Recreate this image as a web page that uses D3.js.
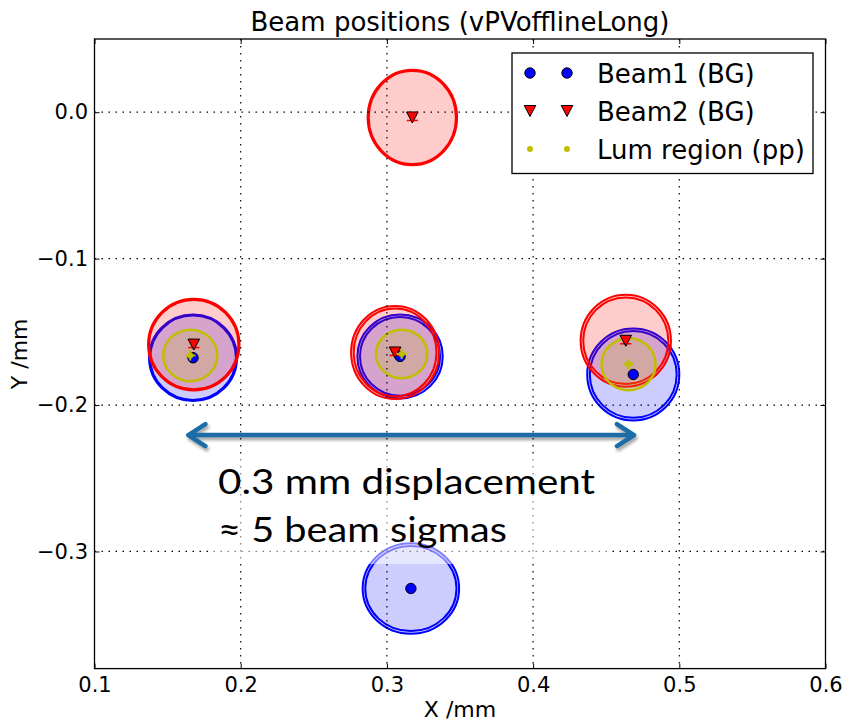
<!DOCTYPE html>
<html><head><meta charset="utf-8">
<script src="https://cdn.jsdelivr.net/npm/d3@7/dist/d3.min.js"></script>
<style>body{margin:0;background:#fff}svg{display:block}</style>
</head><body>
<svg id="chart" width="845" height="723"></svg>
<script>
// ---------- data ----------
const xTicks = [0.1, 0.2, 0.3, 0.4, 0.5, 0.6];
const xTickLabels = ["0.1", "0.2", "0.3", "0.4", "0.5", "0.6"];
const yTicks = [0.0, -0.1, -0.2, -0.3];
const yTickLabels = ["0.0", "\u22120.1", "\u22120.2", "\u22120.3"];

// Beam1 (BG): left, middle, right, bottom
const beam1X  = [0.1674, 0.3090, 0.4685, 0.3164];
const beam1Y  = [-0.1677, -0.1668, -0.1791, -0.3253];
const beam1Rx = [0.0301, 0.0292, 0.0315, 0.0330];
const beam1Ry = [0.0296, 0.0287, 0.0314, 0.0309];
const beam1Rx2 = [0.0293, 0.0274, 0.0297, 0.0312];
const beam1Ry2 = [0.0288, 0.0269, 0.0296, 0.0291];

// Beam2 (BG): left, middle, right, top
const beam2X  = [0.1679, 0.3056, 0.4634, 0.3174];
const beam2Y  = [-0.1587, -0.1641, -0.1561, -0.0036];
const beam2Rx = [0.0313, 0.0301, 0.0309, 0.0306];
const beam2Ry = [0.0313, 0.0318, 0.0314, 0.0326];
const beam2Rx2 = [0.0305, 0.0283, 0.0291, 0.0298];
const beam2Ry2 = [0.0305, 0.0300, 0.0296, 0.0318];
const beam2Ex = 0.0038, beam2Ey = 0.002;

// Lum region (pp): left, middle, right
const lumX  = [0.1655, 0.3101, 0.4653];
const lumY  = [-0.1661, -0.1651, -0.1721];
const lumRx = [0.0185, 0.0176, 0.0185];
const lumRy = [0.0176, 0.0166, 0.0178];
const lumEx = 0.0035, lumEy = 0.0035;

const legendLabels = ["Beam1 (BG)", "Beam2 (BG)", "Lum region (pp)"];
const arrowX = [0.1642, 0.4690];
const arrowY = -0.2205;
const noteLines = ["0.3 mm displacement", "\u2248 5 beam sigmas"];

// ---------- layout ----------
const L = 94.5, R = 825.5, T = 39, B = 668.6;
const x = d3.scaleLinear().domain([0.1, 0.6]).range([L, R]);
const y = d3.scaleLinear().domain([-0.38, 0.05]).range([B, T]);
const svg = d3.select("#chart");
const FONT = "'DejaVu Sans', sans-serif";

const defs = svg.append("defs");
defs.append("clipPath").attr("id", "plotclip").append("rect")
  .attr("x", L).attr("y", T).attr("width", R - L).attr("height", B - T);
const f = defs.append("filter").attr("id", "shadow").attr("x", "-10%").attr("y", "-50%").attr("width", "120%").attr("height", "200%");
f.append("feGaussianBlur").attr("stdDeviation", 1.6);

const BLUE = "#0000ff", RED = "#ff0000", YEL = "#bfbf00";

const plot = svg.append("g").attr("clip-path", "url(#plotclip)");

function rings(X, Y, Rx, Ry, Rx2, Ry2, col, fillOp) {
  const g = plot.append("g");
  X.forEach((d, i) => {
    g.append("ellipse")
      .attr("cx", x(X[i])).attr("cy", y(Y[i]))
      .attr("rx", x(X[i] + Rx[i]) - x(X[i])).attr("ry", y(Y[i] - Ry[i]) - y(Y[i]))
      .attr("fill", col).attr("fill-opacity", fillOp)
      .attr("stroke", col).attr("stroke-width", 2);
    if (Rx2) {
      g.append("ellipse")
        .attr("cx", x(X[i])).attr("cy", y(Y[i]))
        .attr("rx", x(X[i] + Rx2[i]) - x(X[i])).attr("ry", y(Y[i] - Ry2[i]) - y(Y[i]))
        .attr("fill", "none").attr("stroke", col).attr("stroke-width", 2);
    }
  });
}
rings(beam1X, beam1Y, beam1Rx, beam1Ry, beam1Rx2, beam1Ry2, BLUE, 0.2);
rings(beam2X, beam2Y, beam2Rx, beam2Ry, beam2Rx2, beam2Ry2, RED, 0.2);
plot.append("g").selectAll("ellipse").data(lumX).join("ellipse")
  .attr("cx", (d, i) => x(lumX[i])).attr("cy", (d, i) => y(lumY[i]))
  .attr("rx", (d, i) => x(lumX[i] + lumRx[i]) - x(lumX[i]))
  .attr("ry", (d, i) => y(lumY[i] - lumRy[i]) - y(lumY[i]))
  .attr("fill", YEL).attr("fill-opacity", 0.2)
  .attr("stroke", YEL).attr("stroke-width", 2.5);

// ---------- grid ----------
const grid = svg.append("g").attr("stroke", "#000").attr("stroke-width", 1.2).attr("stroke-dasharray", "1.5,5.5");
grid.selectAll("line.gx").data(xTicks.slice(1, -1)).join("line").attr("class", "gx")
  .attr("x1", d => x(d)).attr("x2", d => x(d)).attr("y1", T).attr("y2", B);
grid.selectAll("line.gy").data(yTicks).join("line").attr("class", "gy")
  .attr("y1", d => y(d)).attr("y2", d => y(d)).attr("x1", L).attr("x2", R);

// ---------- markers ----------
const tri = "M-5.8,-5.5L5.8,-5.5L0,5.5Z";
const mk = svg.append("g");
mk.selectAll("circle.b1").data(beam1X).join("circle").attr("class", "b1")
  .attr("cx", (d, i) => x(beam1X[i])).attr("cy", (d, i) => y(beam1Y[i])).attr("r", 5.2)
  .attr("fill", BLUE).attr("stroke", "#000").attr("stroke-width", 1);
beam2X.forEach((d, i) => {
  const cx = x(beam2X[i]), cy = y(beam2Y[i]);
  mk.append("line").attr("x1", x(beam2X[i] - beam2Ex)).attr("x2", x(beam2X[i] + beam2Ex))
    .attr("y1", cy + 3).attr("y2", cy + 3).attr("stroke", RED).attr("stroke-width", 1.5);
  mk.append("path").attr("d", tri).attr("transform", `translate(${cx},${cy})`)
    .attr("fill", RED).attr("stroke", "#000").attr("stroke-width", 1);
});
lumX.forEach((d, i) => {
  const cx = x(lumX[i]), cy = y(lumY[i]);
  mk.append("line").attr("x1", x(lumX[i] - lumEx)).attr("x2", x(lumX[i] + lumEx))
    .attr("y1", cy).attr("y2", cy).attr("stroke", YEL).attr("stroke-width", 2);
  mk.append("line").attr("y1", y(lumY[i] - lumEy)).attr("y2", y(lumY[i] + lumEy))
    .attr("x1", cx).attr("x2", cx).attr("stroke", YEL).attr("stroke-width", 2);
  mk.append("circle").attr("cx", cx).attr("cy", cy).attr("r", 3).attr("fill", YEL);
});

// ---------- axes ----------
const axB = d3.axisBottom(x).tickValues(xTicks).tickSize(-5).tickPadding(8).tickFormat((d, i) => xTickLabels[i]);
const axL = d3.axisLeft(y).tickValues(yTicks).tickSize(-5).tickPadding(6.5).tickFormat((d, i) => yTickLabels[i]);
const axT = d3.axisTop(x).tickValues(xTicks).tickSize(-5).tickFormat("");
const axR = d3.axisRight(y).tickValues(yTicks).tickSize(-5).tickFormat("");
function styleAxis(g) {
  g.select(".domain").remove();
  g.selectAll(".tick line").attr("stroke", "#000").attr("stroke-width", 1);
  g.selectAll("text").attr("font-family", FONT).attr("font-size", 21).attr("fill", "#000");
}
svg.append("g").attr("transform", `translate(0,${B})`).call(axB).call(styleAxis);
svg.append("g").attr("transform", `translate(${L},0)`).call(axL).call(styleAxis);
svg.append("g").attr("transform", `translate(0,${T})`).call(axT).call(styleAxis);
svg.append("g").attr("transform", `translate(${R},0)`).call(axR).call(styleAxis);

svg.append("rect").attr("x", L).attr("y", T).attr("width", R - L).attr("height", B - T)
  .attr("fill", "none").attr("stroke", "#000").attr("stroke-width", 1.3);

// titles
svg.append("text").attr("x", (L + R) / 2).attr("y", 31).attr("text-anchor", "middle")
  .attr("font-family", FONT).attr("font-size", 26).text("Beam positions (vPVofflineLong)");
svg.append("text").attr("x", (L + R) / 2).attr("y", 717).attr("text-anchor", "middle")
  .attr("font-family", FONT).attr("font-size", 22).text("X /mm");
svg.append("text").attr("transform", `translate(27,${(T + B) / 2}) rotate(-90)`).attr("text-anchor", "middle")
  .attr("font-family", FONT).attr("font-size", 22).text("Y /mm");

// ---------- legend ----------
const lg = svg.append("g");
lg.append("rect").attr("x", 512).attr("y", 53).attr("width", 301).attr("height", 120.5)
  .attr("fill", "#fff").attr("stroke", "#000").attr("stroke-width", 1.3);
const rowY = [73, 111, 149];
legendLabels.forEach((lab, i) => {
  [530, 567].forEach(mx => {
    if (i === 0) lg.append("circle").attr("cx", mx).attr("cy", rowY[i]).attr("r", 5.2).attr("fill", BLUE).attr("stroke", "#000");
    if (i === 1) lg.append("path").attr("d", tri).attr("transform", `translate(${mx},${rowY[i]})`).attr("fill", RED).attr("stroke", "#000");
    if (i === 2) lg.append("circle").attr("cx", mx).attr("cy", rowY[i]).attr("r", 3).attr("fill", YEL);
  });
  lg.append("text").attr("x", 597).attr("y", rowY[i] + 9.5).attr("font-family", FONT).attr("font-size", 26).text(lab);
});

// ---------- annotation ----------
svg.append("rect").attr("x", 213).attr("y", 457).attr("width", 395).attr("height", 107)
  .attr("fill", "#fff").attr("fill-opacity", 0.5);

const ax1 = x(arrowX[0]), ax2 = x(arrowX[1]), ay = y(arrowY);
const arrowPath = `M${ax1},${ay}L${ax2},${ay}M${ax1 + 17},${ay - 11}L${ax1},${ay}L${ax1 + 17},${ay + 11}M${ax2 - 17},${ay - 11}L${ax2},${ay}L${ax2 - 17},${ay + 11}`;
svg.append("path").attr("d", arrowPath).attr("transform", "translate(1.5,3)")
  .attr("fill", "none").attr("stroke", "#000").attr("stroke-opacity", 0.35).attr("stroke-width", 4.5)
  .attr("stroke-linecap", "round").attr("stroke-linejoin", "round").attr("filter", "url(#shadow)");
svg.append("path").attr("d", arrowPath)
  .attr("fill", "none").attr("stroke", "#1c6ca8").attr("stroke-width", 4.5)
  .attr("stroke-linecap", "round").attr("stroke-linejoin", "round");

svg.append("text").attr("x", 218).attr("y", 493.5).attr("font-family", "Lato, 'Open Sans', sans-serif")
  .attr("font-size", 34).attr("textLength", 377).attr("lengthAdjust", "spacingAndGlyphs").text(noteLines[0]);
svg.append("text").attr("x", 218).attr("y", 541.5).attr("font-family", "Lato, 'Open Sans', sans-serif")
  .attr("font-size", 34).attr("textLength", 289).attr("lengthAdjust", "spacingAndGlyphs").text(noteLines[1]);
</script>
</body></html>
